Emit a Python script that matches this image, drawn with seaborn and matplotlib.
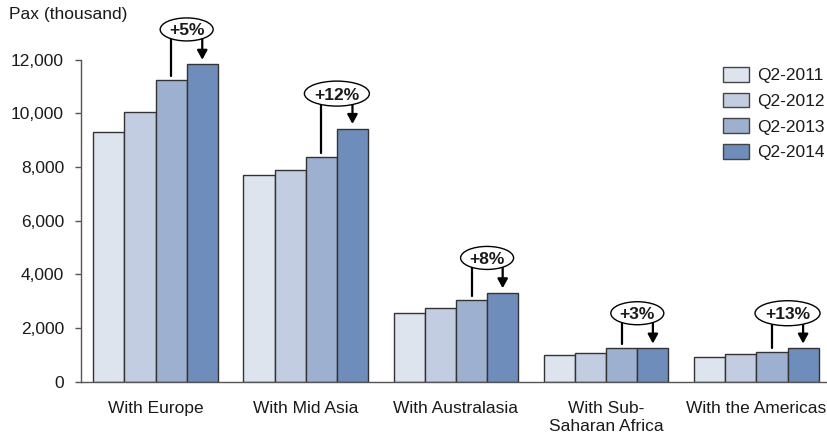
import matplotlib
matplotlib.use("Agg")
import matplotlib.pyplot as plt
import matplotlib.patches as mpatches
from matplotlib.transforms import ScaledTranslation
import seaborn as sns
import pandas as pd
from matplotlib.ticker import StrMethodFormatter

# ---- data ----
categories = ["With Europe", "With Mid Asia", "With Australasia",
              "With Sub-\nSaharan Africa", "With the Americas"]
quarters = ["Q2-2011", "Q2-2012", "Q2-2013", "Q2-2014"]
q2_2011 = [9300, 7680, 2550, 1000, 910]
q2_2012 = [10030, 7870, 2760, 1080, 1045]
q2_2013 = [11250, 8380, 3050, 1240, 1120]
q2_2014 = [11820, 9430, 3310, 1250, 1250]
growth = ["+5%", "+12%", "+8%", "+3%", "+13%"]
colors = ["#dee4ee", "#c3cde1", "#9eb0cf", "#6f8dbb"]

series = [q2_2011, q2_2012, q2_2013, q2_2014]
rows = []
for q, vals in zip(quarters, series):
    for c, v in zip(categories, vals):
        rows.append({"route": c, "quarter": q, "pax": v})
df = pd.DataFrame(rows)

sns.set_style("white")
plt.rcParams["font.family"] = ["Liberation Sans", "DejaVu Sans"]
TXT = "#1a1a1a"
FS = 12.5

DPI = 100
fig = plt.figure(figsize=(8.28, 4.41), dpi=DPI)
W, H = 828, 441
x0, y0 = 80.7, 381.7
ytop = 59.5
ax = fig.add_axes([x0 / W, (H - y0) / H, (W - x0) / W, (y0 - ytop) / H])

sns.barplot(data=df, x="route", y="pax", hue="quarter", order=categories,
            hue_order=quarters, palette=colors, saturation=1, width=0.83,
            gap=0, edgecolor="#333333", linewidth=1, ax=ax, errorbar=None)

ax.set_xlim(-0.498, 4.477)
ax.set_ylim(0, 12000)
ax.set_yticks(range(0, 12001, 2000))
ax.yaxis.set_major_formatter(StrMethodFormatter("{x:,.0f}"))
ax.set_xlabel("")
ax.set_ylabel("")
for s in ["top", "right"]:
    ax.spines[s].set_visible(False)
for s in ["left", "bottom"]:
    ax.spines[s].set_color("#555555")
    ax.spines[s].set_linewidth(1)
ax.tick_params(axis="y", left=True, length=4, width=1, color="#555555",
               pad=8, labelsize=FS, labelcolor=TXT)
ax.tick_params(axis="x", bottom=False, length=0, pad=14, labelsize=FS,
               labelcolor=TXT)

fig.text(9 / W, 1 - 15 / H, "Pax (thousand)", ha="left", va="center",
         fontsize=FS, color=TXT)

# legend
handles = [mpatches.Patch(facecolor=c, edgecolor="#444444", linewidth=1)
           for c in colors]
ax.legend(handles, quarters, loc="upper left",
          bbox_to_anchor=(723 / W, 1 - 67 / H), bbox_transform=fig.transFigure,
          frameon=False, borderpad=0, borderaxespad=0, handlelength=1.5,
          handleheight=0.92, handletextpad=0.45, labelspacing=0.54,
          fontsize=FS, labelcolor=TXT)

# growth annotations
for i in range(len(categories)):
    b3 = ax.containers[2][i]
    b4 = ax.containers[3][i]
    x3 = b3.get_x() + b3.get_width() / 2
    x4 = b4.get_x() + b4.get_width() / 2
    h3 = b3.get_height()
    h4 = b4.get_height()
    xc = (x3 + x4) / 2
    ye = max(h3, h4) + 1300
    ax.plot([x3, x3], [h3 + 150, ye], color="black", lw=1.6,
            clip_on=False, zorder=5)
    ax.annotate("", xy=(x4, h4 + 170), xytext=(x4, ye),
                arrowprops=dict(arrowstyle="-|>,head_length=0.55,head_width=0.3",
                                color="black", lw=1.6, shrinkA=0, shrinkB=0),
                annotation_clip=False, zorder=5)
    n = len(growth[i])
    ew = (53 if n <= 3 else 65) / DPI
    eh = (23 if n <= 3 else 25) / DPI
    tr = fig.dpi_scale_trans + ScaledTranslation(xc, ye, ax.transData)
    ell = mpatches.Ellipse((0, 0), ew, eh, transform=tr, facecolor="white",
                           edgecolor="black", lw=1, zorder=6, clip_on=False)
    ax.add_patch(ell)
    ax.text(xc, ye, growth[i], ha="center", va="center_baseline",
            fontweight="bold", fontsize=FS, color=TXT, zorder=7, clip_on=False)

fig.savefig("out.png", dpi=DPI)
